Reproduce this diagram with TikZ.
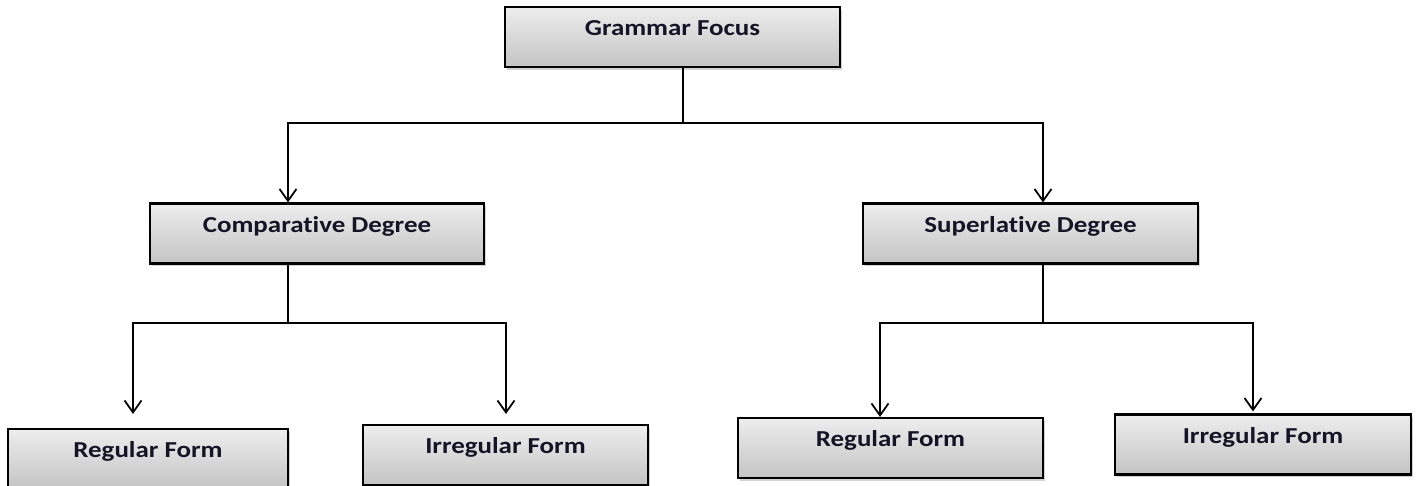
\documentclass[tikz,border=0pt]{standalone}
\usepackage{fontspec}
\setmainfont{Carlito}[FakeStretch=1.18, Ligatures=NoCommon]
\usepackage{tikz}
\usetikzlibrary{arrows.meta, positioning, calc, shadows}
\definecolor{boxtop}{HTML}{EDEDED}
\definecolor{boxbottom}{HTML}{C4C4C4}
\definecolor{boxtext}{HTML}{141426}

\begin{document}
\begin{tikzpicture}[
    x=0.02cm, y=-0.02cm,
    topic/.style={rectangle, draw=black, line width=1.2pt, top color=boxtop, bottom color=boxbottom, text=boxtext, font=\fontsize{13}{15}\selectfont\bfseries, align=center, minimum height=1.2cm, inner sep=0pt, text height=0.57cm, text depth=0.63cm, drop shadow={shadow xshift=1pt, shadow yshift=-1.5pt, opacity=0.35}},
    arrow/.style={-{Straight Barb[length=0.24cm, width=0.34cm]}, line width=1pt},
    link/.style={line width=1pt}
]
\useasboundingbox (0,0) rectangle (1418,485);

\node[topic, minimum width=6.7cm] (gf) at (672.5,37) {Grammar Focus};
\node[topic, minimum width=6.68cm] (comp) at (317,233.5) {Comparative Degree};
\node[topic, minimum width=6.7cm] (sup) at (1030.5,233.5) {Superlative Degree};
\node[topic, minimum width=5.6cm] (reg1) at (148,459) {Regular Form};
\node[topic, minimum width=5.7cm] (irr1) at (505.5,455) {Irregular Form};
\node[topic, minimum width=6.1cm] (reg2) at (890.5,448) {Regular Form};
\node[topic, minimum width=5.92cm] (irr2) at (1263,444.5) {Irregular Form};

\coordinate (b0) at (683,123);
\coordinate (b1) at (288,123);
\coordinate (b2) at (1043,123);
\coordinate (c0) at (288,323);
\coordinate (c1) at (133,323);
\coordinate (c2) at (506,323);
\coordinate (s0) at (1043,323);
\coordinate (s1) at (880,323);
\coordinate (s2) at (1253,323);

\draw[link] (gf.south -| b0) -- (b0);
\draw[arrow] (b0) -- (b1) -- (b1 |- comp.north);
\draw[arrow] (b0) -- (b2) -- (b2 |- sup.north);

\draw[link] (comp.south -| c0) -- (c0);
\draw[arrow, shorten >=0.28cm] (c0) -- (c1) -- (c1 |- reg1.north);
\draw[arrow, shorten >=0.2cm] (c0) -- (c2) -- (c2 |- irr1.north);

\draw[link] (sup.south -| s0) -- (s0);
\draw[arrow] (s0) -- (s1) -- (s1 |- reg2.north);
\draw[arrow, shorten >=0.04cm] (s0) -- (s2) -- (s2 |- irr2.north);

\end{tikzpicture}
\end{document}
